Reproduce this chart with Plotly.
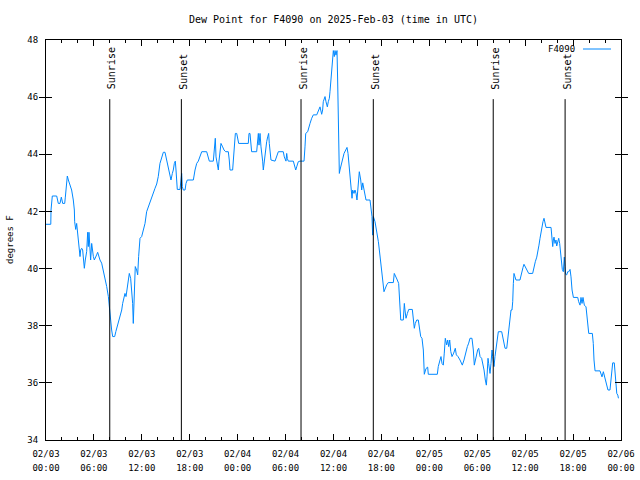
import pandas as pd
import plotly.graph_objects as go

# ---- data ----
base_time = "2025-02-03 00:00"
hours = [
    0.0, 0.6, 0.63, 0.79, 1.34, 1.54, 1.75, 1.92, 2.09, 2.34, 2.42, 2.59, 2.67, 2.8, 3.0, 3.21, 3.42,
    3.55, 3.59, 3.72, 3.84, 3.92, 4.05, 4.13, 4.26, 4.34, 4.47, 4.59, 4.67, 4.8, 4.92, 5.09, 5.22,
    5.3, 5.38, 5.51, 5.59, 5.72, 5.8, 5.93, 6.05, 6.18, 6.34, 6.47, 6.59, 6.76, 6.97, 7.18, 7.39,
    7.6, 7.81, 7.93, 8.01, 8.1, 8.22, 8.35, 8.6, 8.75, 8.93, 9.14, 9.27, 9.48, 9.6, 9.77, 9.89,
    10.02, 10.18, 10.31, 10.43, 10.6, 10.77, 10.85, 10.93, 11.06, 11.18, 11.35, 11.48, 11.6, 11.77,
    11.98, 12.19, 12.4, 12.6, 12.81, 13.02, 13.23, 13.44, 13.65, 13.86, 14.06, 14.27, 14.48, 14.69,
    14.9, 15.03, 15.19, 15.36, 15.53, 15.65, 15.82, 15.94, 16.07, 16.19, 16.28, 16.37, 16.44, 16.78,
    16.9, 16.99, 17.07, 17.19, 17.41, 17.53, 17.69, 18.45, 18.66, 18.87, 19.07, 19.28, 19.5, 20.12,
    20.32, 20.45, 20.95, 21.08, 21.2, 21.29, 21.45, 21.58, 21.66, 21.79, 21.91, 22.12, 22.29, 22.5,
    22.83, 22.95, 23.04, 23.37, 23.46, 23.58, 23.71, 23.88, 23.96, 24.13, 25.33, 25.42, 25.54, 25.63,
    25.75, 26.38, 26.46, 26.59, 26.67, 26.8, 26.92, 27.05, 27.13, 27.21, 27.34, 27.46, 27.63, 27.76,
    27.88, 27.96, 28.05, 28.17, 28.68, 28.89, 29.09, 29.71, 29.84, 30.05, 30.14, 30.22, 30.34, 30.97,
    31.09, 31.27, 31.39, 31.59, 31.8, 32.31, 32.43, 32.52, 32.77, 32.97, 33.06, 33.27, 33.47, 33.9,
    34.1, 34.31, 34.52, 34.64, 34.72, 34.94, 35.06, 35.23, 35.35, 35.48, 35.56, 35.77, 35.85, 35.98,
    36.1, 36.19, 36.31, 36.44, 36.52, 36.65, 36.73, 36.81, 36.94, 37.1, 37.32, 37.53, 37.69, 37.82,
    37.94, 38.07, 38.19, 38.32, 38.4, 38.57, 38.69, 38.82, 38.94, 39.07, 39.15, 39.23, 39.41, 39.53,
    39.66, 39.78, 39.95, 40.07, 40.57, 40.7, 40.82, 40.9, 40.99, 41.2, 41.32, 41.49, 41.62, 41.74,
    41.91, 42.03, 42.16, 42.32, 42.45, 42.66, 42.86, 43.49, 43.61, 43.83, 43.99, 44.16, 44.33, 44.42,
    44.74, 44.87, 44.95, 45.08, 45.25, 45.42, 45.87, 45.99, 46.12, 46.24, 46.42, 46.62, 46.74, 46.92,
    47.08, 47.25, 47.37, 47.58, 47.79, 47.87, 49.0, 49.12, 49.34, 49.46, 49.59, 49.75, 49.87, 50.0,
    50.17, 50.3, 50.42, 50.55, 50.68, 50.84, 51.05, 51.25, 51.38, 51.59, 51.84, 52.13, 52.34, 52.59,
    52.76, 52.93, 53.09, 53.34, 53.51, 53.63, 53.76, 53.93, 54.05, 54.18, 54.35, 54.55, 54.72, 54.85,
    55.01, 55.14, 55.22, 55.35, 55.43, 55.51, 55.6, 55.72, 55.85, 55.93, 56.1, 56.22, 56.35, 56.47,
    56.64, 57.06, 57.27, 57.48, 57.69, 57.94, 58.02, 58.14, 58.23, 58.35, 58.44, 58.52, 58.6, 58.73,
    58.85, 59.35, 59.48, 59.6, 59.73, 59.85, 60.07, 60.27, 60.44, 60.94, 61.11, 61.27, 61.45, 61.61,
    61.73, 61.86, 61.98, 62.11, 62.23, 62.36, 62.48, 62.61, 63.24, 63.36, 63.45, 63.53, 63.61, 63.74,
    63.86, 63.95, 64.07, 64.2, 64.32, 64.45, 64.57, 64.65, 64.78, 64.9, 64.99, 65.07, 65.2, 65.33,
    65.45, 65.62, 65.74, 65.87, 66.04, 66.58, 66.7, 66.87, 66.99, 67.12, 67.24, 67.41, 67.62, 67.71,
    67.78, 67.96, 68.41, 68.53, 68.62, 68.75, 69.37, 69.5, 69.62, 69.79, 69.91, 70.04, 70.21, 70.37,
    70.62, 70.75, 70.87, 70.96, 71.16, 71.25, 71.34, 71.47, 71.6, 71.68,
]
dewpoint = [
    41.55, 41.55, 42.05, 42.54, 42.54, 42.28, 42.28, 42.5, 42.28, 42.28, 42.5, 42.87, 43.24, 43.1, 42.93, 42.75, 42.4,
    42.05, 41.64, 41.37, 41.58, 41.35, 41.0, 40.65, 40.42, 40.65, 40.71, 40.65, 40.3, 40.01, 40.3, 40.59, 41.27,
    40.77, 41.27, 40.59, 40.3, 40.88, 40.59, 40.42, 40.3, 40.42, 40.48, 40.57, 40.42, 40.3, 40.19, 39.95, 39.66,
    39.37, 39.02, 38.67, 38.32, 38.08, 37.85, 37.62, 37.62, 37.8, 37.97, 38.2, 38.37, 38.55, 38.78, 39.02, 39.13,
    39.02, 39.37, 39.6, 39.83, 39.66, 39.13, 38.78, 38.08, 39.48, 40.07, 39.95, 39.78, 40.42, 41.06,
    41.12, 41.35, 41.58, 41.99, 42.17, 42.28, 42.46, 42.69, 42.81, 42.96, 43.22, 43.68, 43.91, 44.07,
    44.07, 43.91, 43.68, 43.45, 43.22, 43.1, 43.33, 43.45, 43.68, 43.76, 43.45, 43.04, 42.77, 42.77,
    43.1, 43.33, 42.87, 42.75, 42.75, 42.98, 43.1, 43.1, 43.45, 43.68, 43.76, 43.91, 44.09, 44.09,
    43.91, 43.76, 43.76, 44.21, 44.56, 43.91, 43.68, 43.45, 43.76, 44.15, 44.38, 44.26, 44.15, 44.09,
    44.09, 43.8, 43.45, 43.45, 43.8, 44.26, 44.73, 44.73, 44.56, 44.38, 44.38, 44.73, 44.73, 44.44,
    44.09, 44.09, 44.44, 44.73, 44.32, 44.73, 44.26, 44.03, 43.76, 43.45, 43.8, 44.15, 44.44, 44.61,
    44.73, 44.38, 44.03, 43.8, 43.76, 43.91, 44.09, 44.09, 43.91, 43.76, 44.03, 43.85, 43.76, 43.76,
    43.62, 43.45, 43.56, 43.74, 43.76, 43.76, 44.26, 44.73, 44.79, 45.08, 45.08, 45.26, 45.38, 45.38,
    45.55, 45.66, 45.4, 45.55, 45.84, 46.02, 45.84, 45.66, 45.84, 45.96, 46.19, 46.89, 47.42, 47.63,
    47.42, 47.63, 47.47, 47.63, 46.6, 44.38, 43.33, 43.45, 43.62, 43.85, 44.03, 44.15, 44.24, 44.03,
    43.68, 43.22, 42.77, 42.46, 42.75, 42.63, 42.75, 42.63, 42.4, 42.87, 43.16, 43.39, 43.1, 42.75,
    43.0, 42.81, 42.52, 42.4, 42.4, 42.17, 41.82, 41.17, 41.82, 41.64, 41.47, 41.23, 40.94, 40.65,
    40.3, 39.95, 39.6, 39.19, 39.31, 39.43, 39.51, 39.51, 39.83, 39.72, 39.6, 39.48, 38.84, 38.2,
    38.2, 38.78, 38.55, 38.26, 38.43, 38.57, 38.57, 38.32, 37.91, 38.08, 38.2, 38.2, 37.91, 37.62,
    37.56, 37.15, 36.3, 36.5, 36.55, 36.3, 36.3, 36.57, 36.8, 36.92, 36.68, 36.62, 37.04, 37.56,
    37.33, 37.5, 37.27, 37.5, 37.1, 36.92, 37.04, 37.21, 36.98, 36.92, 36.8, 36.62, 36.8, 37.15,
    37.27, 37.39, 37.56, 37.56, 37.15, 36.62, 36.8, 36.92, 37.15, 37.21, 36.92, 36.86, 36.68, 36.45,
    36.1, 35.92, 36.21, 36.86, 36.68, 36.45, 36.33, 36.68, 37.15, 36.92, 36.57, 36.92, 37.15, 37.5,
    37.79, 37.79, 37.44, 37.21, 37.21, 37.85, 38.02, 38.3, 38.55, 38.55, 38.84, 39.48, 39.83, 39.71,
    39.6, 39.6, 39.77, 39.95, 40.04, 40.15, 40.01, 39.89, 39.83, 39.83, 40.07, 40.24, 40.4, 40.59,
    40.82, 41.06, 41.29, 41.47, 41.64, 41.76, 41.58, 41.44, 41.44, 41.06, 40.77, 41.0, 41.1, 40.88,
    41.0, 40.79, 40.94, 41.06, 40.88, 40.59, 40.3, 39.97, 39.89, 40.4, 40.07, 39.8, 39.78, 39.89,
    39.89, 39.97, 39.71, 39.25, 38.99, 38.99, 38.84, 38.72, 38.99, 38.78, 38.99, 38.72, 38.66, 38.43,
    38.02, 37.73, 37.73, 37.38, 36.8, 36.42, 36.42, 36.33, 36.21, 36.39, 36.27, 36.1, 35.96, 35.75,
    35.75, 36.1, 36.5, 36.7, 36.7, 36.45, 35.98, 35.63, 35.57, 35.46,
]
sun_times = ["2025-02-03 07:59", "2025-02-03 16:57", "2025-02-04 07:56",
             "2025-02-04 16:59", "2025-02-05 08:00", "2025-02-05 17:00"]
sun_labels = ["Sunrise", "Sunset", "Sunrise", "Sunset", "Sunrise", "Sunset"]
series_name = "F4090"
title_text = "Dew Point for F4090 on 2025-Feb-03 (time in UTC)"
y_label = "degrees F"
x_range = ["2025-02-03 00:00", "2025-02-06 00:00"]
y_range = [34, 48]

times = pd.Timestamp(base_time) + pd.to_timedelta(hours, unit="h")

FONT = "DejaVu Sans Mono"
BLUE = "rgb(0,136,255)"

fig = go.Figure()
fig.add_trace(go.Scatter(x=times, y=dewpoint, mode="lines", name=series_name,
                         line=dict(color=BLUE, width=1), showlegend=False))
# empty helper trace so the second (time-of-day) label axis is drawn
fig.add_trace(go.Scatter(x=x_range, y=y_range, xaxis="x2", yaxis="y", mode="none",
                         showlegend=False, hoverinfo="skip"))

shapes = []
annotations = []
line_top = 45.93
for t, lab in zip(sun_times, sun_labels):
    shapes.append(dict(type="line", xref="x", yref="y", x0=t, x1=t, y0=y_range[0], y1=line_top,
                       line=dict(color="black", width=1)))
    annotations.append(dict(x=t, y=46.2, xref="x", yref="y", text=lab, textangle=-90,
                            showarrow=False, xanchor="center", yanchor="bottom", xshift=2,
                            font=dict(family=FONT, size=10, color="black")))

# legend key (gnuplot style: text then sample line)
leg_y = (440 - 49) / 400
annotations.append(dict(x=(577 - 46) / 575, y=leg_y, xref="paper", yref="paper",
                        text=series_name, showarrow=False, xanchor="right", yanchor="middle",
                        font=dict(family=FONT, size=9, color="black")))
shapes.append(dict(type="line", xref="paper", yref="paper", x0=(583 - 46) / 575, x1=(611 - 46) / 575,
                   y0=leg_y, y1=leg_y, line=dict(color=BLUE, width=1)))

annotations.append(dict(x=(10 - 46) / 575, y=0.5, xref="paper", yref="paper", text=y_label,
                        textangle=-90, showarrow=False, xanchor="center", yanchor="middle",
                        font=dict(family=FONT, size=9, color="black")))
annotations.append(dict(x=0.5, y=(440 - 20) / 400, xref="paper", yref="paper", text=title_text,
                        showarrow=False, xanchor="center", yanchor="middle",
                        font=dict(family=FONT, size=10, color="black")))

fig.update_layout(
    width=640, height=480,
    margin=dict(l=46, r=19, t=40, b=40, autoexpand=False),
    paper_bgcolor="white", plot_bgcolor="white",
    font=dict(family=FONT, size=9, color="black"),
    shapes=shapes, annotations=annotations,
    showlegend=False,
    xaxis=dict(
        type="date", range=x_range, showgrid=False, zeroline=False, automargin=False,
        showline=True, linecolor="black", linewidth=1, mirror="allticks",
        ticks="inside", ticklen=6, tickcolor="black",
        tick0="2025-02-03", dtick=6 * 3600 * 1000, tickformat="%m/%d",
        minor=dict(ticks="inside", ticklen=3, dtick=2 * 3600 * 1000, tickcolor="black", showgrid=False),
        tickfont=dict(family=FONT, size=9), ticklabelstandoff=5,
    ),
    xaxis2=dict(
        type="date", range=x_range, overlaying="x", anchor="y", side="bottom", automargin=False,
        showgrid=False, zeroline=False, showline=False, ticks="",
        tick0="2025-02-03", dtick=6 * 3600 * 1000, tickformat="%H:%M",
        tickfont=dict(family=FONT, size=9), ticklabelstandoff=21,
    ),
    yaxis=dict(
        range=y_range, dtick=2, showgrid=False, zeroline=False, automargin=False,
        showline=True, linecolor="black", linewidth=1, mirror="allticks",
        ticks="inside", ticklen=6, tickcolor="black",
        tickfont=dict(family=FONT, size=9), ticklabelstandoff=5,
    ),
)

fig.write_html("out.html")
